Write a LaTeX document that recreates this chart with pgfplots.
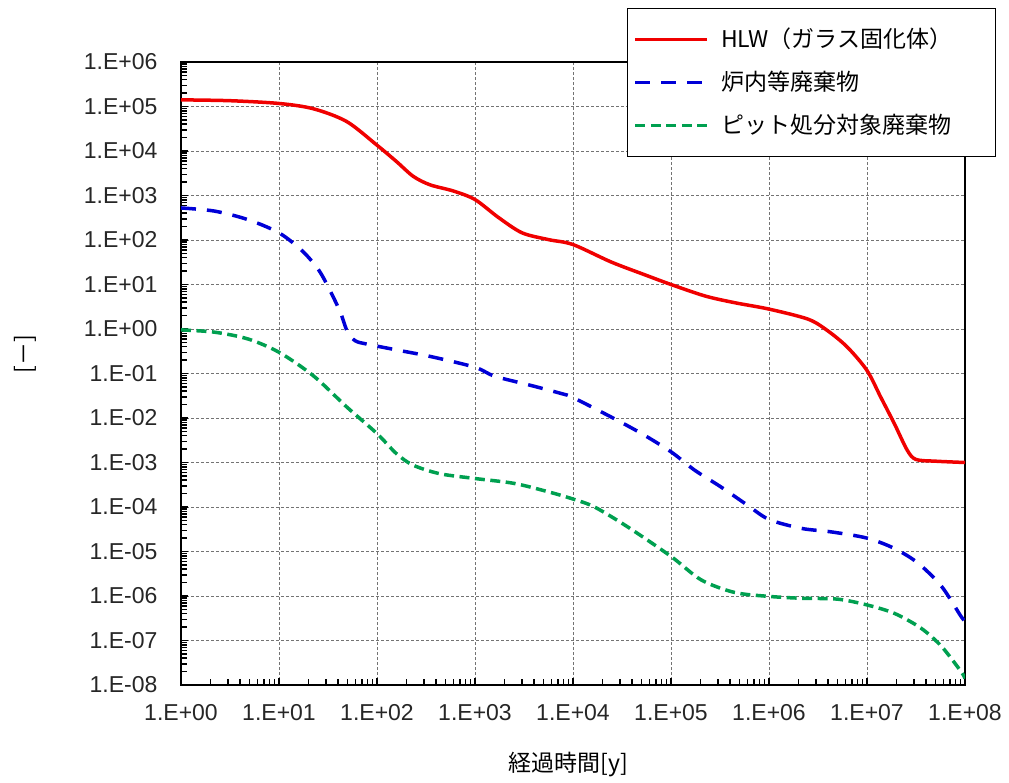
\documentclass[border=0pt]{standalone}
\usepackage{fontspec}
\setmainfont{Liberation Sans}
\newfontfamily\jp{Noto Sans CJK JP}
\usepackage{pgfplots}
\pgfplotsset{compat=1.18}

\definecolor{hlwred}{RGB}{240,0,0}
\definecolor{pitblue}{RGB}{0,0,215}
\definecolor{pitgreen}{RGB}{0,160,80}

\newcommand{\tickfont}{\fontsize{23}{27}\selectfont}
\newcommand{\jpfont}{\jp\fontsize{23}{27}\selectfont}

\begin{document}
\begin{tikzpicture}
    \begin{axis}[
        at={(0,0)}, anchor=south west,
        scale only axis,
        width=784pt, height=623pt,
        xmode=log, ymode=log,
        xmin=1, xmax=1e8,
        ymin=1e-8, ymax=1e6,
        axis line style={line width=1.8pt},
        tick align=inside,
        xtick pos=bottom, ytick pos=left,
        major tick length=7pt, minor tick length=6pt,
        major tick style={black, line width=1.5pt},
        minor tick style={black, line width=1.5pt},
        grid=major,
        major grid style={draw=black!55, line width=0.9pt, dash pattern=on 3pt off 2pt},
        xtick={1,1e1,1e2,1e3,1e4,1e5,1e6,1e7,1e8},
        xticklabels={1.E+00,1.E+01,1.E+02,1.E+03,1.E+04,1.E+05,1.E+06,1.E+07,1.E+08},
        ytick={1e-8,1e-7,1e-6,1e-5,1e-4,1e-3,1e-2,1e-1,1,1e1,1e2,1e3,1e4,1e5,1e6},
        yticklabels={1.E-08,1.E-07,1.E-06,1.E-05,1.E-04,1.E-03,1.E-02,1.E-01,1.E+00,1.E+01,1.E+02,1.E+03,1.E+04,1.E+05,1.E+06},
        tick label style={font=\tickfont, text=black!85},
        xticklabel style={yshift=-16pt},
        yticklabel style={xshift=-20pt},
        xlabel={\jpfont 経過時間[y]},
        ylabel={\jpfont [－]},
        xlabel style={at={(axis description cs:0.494,-0.128)}, anchor=center},
        ylabel style={at={(axis description cs:-0.199,0.531)}, anchor=center},
        legend image code/.code={\draw[#1] (0pt,0pt) -- (72pt,0pt);},
        legend cell align=left,
        legend style={
            at={(axis description cs:0.5689,1.0867)}, anchor=north west,
            draw=black, line width=1pt, fill=white,
            font=\jpfont,
            inner xsep=6pt, inner ysep=17pt,
            row sep=15pt, column sep=12pt,
            nodes={inner sep=0pt, text height=22pt, text depth=6pt, text width=268pt, align=left}
        },
    ]
    % HLW (vitrified waste)
    \addplot[hlwred, line width=3.5pt, smooth] coordinates {
        (1,1.41e5) (3.16,1.35e5) (10,1.17e5) (22.4,8.9e4) (49,4.6e4)
        (100,1.35e4) (158,5.8e3) (234,2.7e3) (347,1.74e3) (603,1.26e3)
        (1000,8.1e2) (1738,3.2e2) (3020,1.45e2) (5623,1.02e2) (1e4,79)
        (24547,32) (53703,16.6) (1e5,10) (223872,5.5) (446684,3.9)
        (1e6,2.8) (2.51e6,1.66) (3.98e6,0.91) (6.31e6,0.39) (1e7,0.117)
        (1.38e7,2.95e-2) (1.905e7,7.4e-3) (2.57e7,1.9e-3) (3.16e7,1.17e-3)
        (5.01e7,1.07e-3) (1e8,1.0e-3)
    };
    % in-core waste
    \addplot[pitblue, line width=3.5pt, dash pattern=on 15pt off 11pt, smooth] coordinates {
        (1,525) (2.19,447) (4.79,288) (10,145) (17.4,56) (25.7,20.4)
        (34.7,6.0) (42.7,2.24) (50.1,0.85) (60.3,0.54) (79.4,0.457)
        (158,0.339) (355,0.24) (1000,0.138) (1585,8.7e-2) (3715,5.4e-2)
        (7586,3.55e-2) (1e4,2.88e-2) (24547,1.05e-2) (50119,4.47e-3)
        (1e5,1.74e-3) (173780,6.76e-4) (323594,2.82e-4) (602560,1.1e-4)
        (1e6,5.25e-5) (2.14e6,3.31e-5) (4.37e6,2.75e-5) (1e7,2.0e-5)
        (1.905e7,1.17e-5) (3.31e7,5.5e-6) (5.75e7,1.66e-6) (9.12e7,3.47e-7)
        (1e8,2.8e-7)
    };
    % pit disposal waste
    \addplot[pitgreen, line width=3.5pt, dash pattern=on 10pt off 5.5pt, smooth] coordinates {
        (1,0.955) (2.19,0.85) (4.79,0.6) (10,0.30) (22.4,8.9e-2) (49,1.78e-2)
        (100,4.47e-3) (158,1.58e-3) (234,8.7e-4) (437,5.6e-4) (1000,4.37e-4)
        (2512,3.39e-4) (5623,2.19e-4) (1e4,1.51e-4) (16596,1.0e-4)
        (36308,3.55e-5) (1e5,7.76e-6) (204174,2.29e-6) (446684,1.2e-6)
        (1e6,9.8e-7) (2.14e6,8.9e-7) (5.01e6,8.5e-7) (1e7,6.3e-7)
        (1.905e7,4.07e-7) (3.55e7,1.9e-7) (5.75e7,7.4e-8) (9.12e7,2.0e-8)
        (1e8,1.4e-8)
    };
    \legend{HLW（ガラス固化体）, 炉内等廃棄物, ピット処分対象廃棄物}
    \end{axis}
    \pgfresetboundingbox
    \path[use as bounding box] (-181pt,-97pt) rectangle (828pt,685pt);
\end{tikzpicture}
\end{document}
